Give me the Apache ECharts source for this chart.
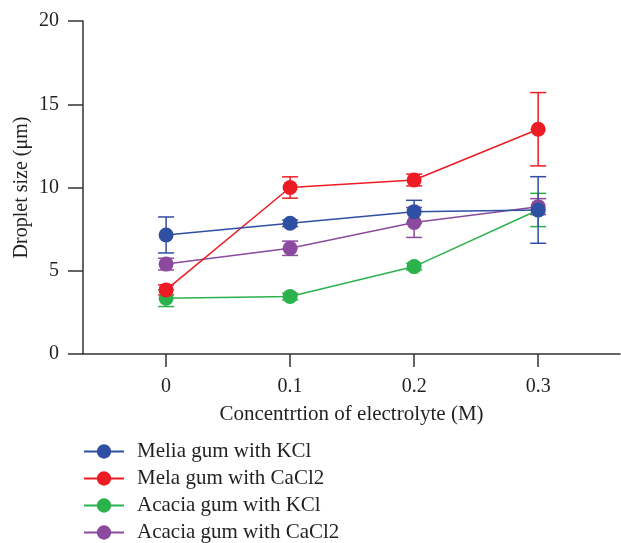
<!DOCTYPE html>
<html>
<head>
<meta charset="utf-8">
<script src="https://cdn.jsdelivr.net/npm/echarts@6/dist/echarts.min.js"></script>
<style>
  html, body { margin: 0; padding: 0; background: #fff; }
  #chart { width: 621px; height: 543px; }
</style>
</head>
<body>
<div id="chart"></div>
<script>
// concentration of electrolyte (M)
const xValues = [0, 0.1, 0.2, 0.3];
const xTickLabels = ['0', '0.1', '0.2', '0.3'];

// droplet size (µm), mean and error
const meliaKCl = [7.15, 7.85, 8.55, 8.65];
const meliaKClErr = [1.08, 0.2, 0.68, 2.0];
const melaCaCl2 = [3.85, 10.0, 10.45, 13.5];
const melaCaCl2Err = [0.3, 0.64, 0.35, 2.2];
const acaciaKCl = [3.35, 3.45, 5.25, 8.65];
const acaciaKClErr = [0.5, 0.2, 0.2, 1.0];
const acaciaCaCl2 = [5.4, 6.35, 7.9, 8.85];
const acaciaCaCl2Err = [0.35, 0.43, 0.9, 0.48];

const seriesNames = ['Melia gum with KCl', 'Mela gum with CaCl2', 'Acacia gum with KCl', 'Acacia gum with CaCl2'];
const colors = ['#2f4fa2', '#ed1c24', '#2bb24c', '#8b4a9e'];
const means = [meliaKCl, melaCaCl2, acaciaKCl, acaciaCaCl2];
const errs = [meliaKClErr, melaCaCl2Err, acaciaKClErr, acaciaCaCl2Err];
const zOrder = [6, 5, 3, 4];

const font = 'Liberation Serif';
const textColor = '#231f20';

const chart = echarts.init(document.getElementById('chart'));

const lineSeries = seriesNames.map((name, i) => ({
  name: name,
  type: 'line',
  data: xValues.map((x, j) => [x, means[i][j]]),
  symbol: 'circle',
  symbolSize: 15,
  z: zOrder[i] + 10,
  itemStyle: { color: colors[i] },
  lineStyle: { color: colors[i], width: 1.5 },
  emphasis: { disabled: true }
}));

const errSeries = seriesNames.map((name, i) => ({
  name: name + ' err',
  type: 'custom',
  z: zOrder[i],
  data: xValues.map((x, j) => [x, means[i][j] - errs[i][j], means[i][j] + errs[i][j]]),
  renderItem: function (params, api) {
    const lo = api.coord([api.value(0), api.value(1)]);
    const hi = api.coord([api.value(0), api.value(2)]);
    const cap = 8;
    const style = { stroke: colors[i], lineWidth: 1.5, fill: null };
    return {
      type: 'group',
      children: [
        { type: 'line', shape: { x1: lo[0], y1: lo[1], x2: hi[0], y2: hi[1] }, style: style },
        { type: 'line', shape: { x1: lo[0] - cap, y1: lo[1], x2: lo[0] + cap, y2: lo[1] }, style: style },
        { type: 'line', shape: { x1: hi[0] - cap, y1: hi[1], x2: hi[0] + cap, y2: hi[1] }, style: style }
      ]
    };
  }
}));

chart.setOption({
  animation: false,
  textStyle: { fontFamily: font },
  grid: { left: 83, right: 1, top: 21, bottom: 189 },
  xAxis: {
    type: 'value',
    min: -0.067,
    max: 0.366,
    name: 'Concentrtion of electrolyte (M)',
    nameLocation: 'middle',
    nameGap: 50,
    nameTextStyle: { fontFamily: font, fontSize: 21, color: textColor },
    axisLine: { onZero: false, lineStyle: { color: '#333', width: 1.5 } },
    axisTick: { show: true, length: 13, customValues: xValues, lineStyle: { color: '#333', width: 1.5 } },
    axisLabel: {
      customValues: xValues,
      formatter: v => xTickLabels[xValues.findIndex(x => Math.abs(x - v) < 1e-6)],
      fontFamily: font, fontSize: 20, color: textColor, margin: 23
    },
    splitLine: { show: false }
  },
  yAxis: {
    type: 'value',
    min: 0,
    max: 20,
    interval: 5,
    name: 'Droplet size (μm)',
    nameLocation: 'middle',
    nameGap: 51,
    nameMoveOverlap: false,
    nameTextStyle: { fontFamily: font, fontSize: 20, color: textColor },
    axisLine: { show: true, onZero: false, lineStyle: { color: '#333', width: 1.5 } },
    axisTick: { show: true, length: 15, lineStyle: { color: '#333', width: 1.5 } },
    axisLabel: { fontFamily: font, fontSize: 20, color: textColor, margin: 24 },
    splitLine: { show: false }
  },
  legend: {
    data: seriesNames,
    orient: 'vertical',
    left: 78,
    top: 436,
    height: 300,
    itemWidth: 40,
    itemHeight: 18,
    itemGap: 6,
    textStyle: { fontFamily: font, fontSize: 21, color: textColor, padding: [0, 0, 0, 8] }
  },
  series: errSeries.concat(lineSeries)
});
</script>
</body>
</html>
